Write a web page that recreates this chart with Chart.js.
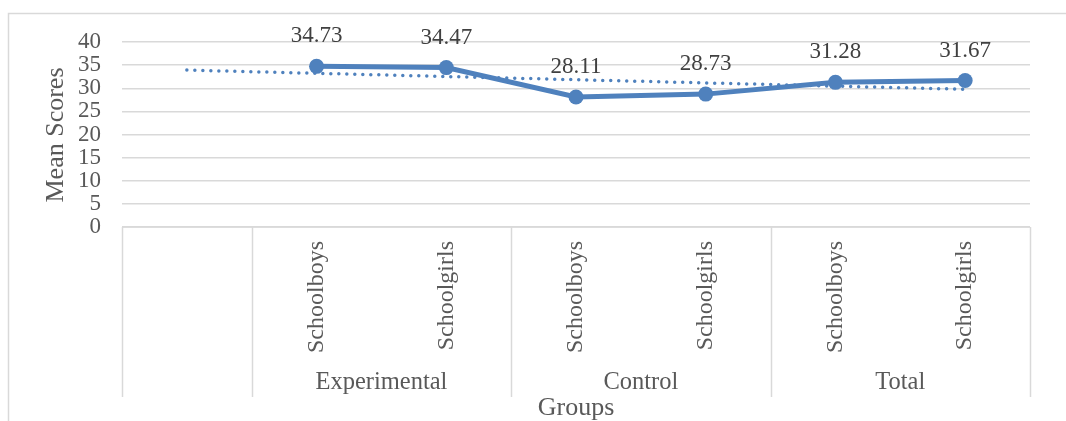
<!DOCTYPE html>
<html>
<head>
<meta charset="utf-8">
<script src="https://cdn.jsdelivr.net/npm/chart.js@4/dist/chart.umd.min.js"></script>
<style>
  html, body { margin: 0; padding: 0; background: #ffffff; }
  canvas { display: block; }
</style>
</head>
<body>
<canvas id="chart" width="1066" height="421"></canvas>
<script>
// Category slots: the first slot is an empty lead-in, then two per group
const categories = ['', 'Schoolboys', 'Schoolgirls', 'Schoolboys', 'Schoolgirls', 'Schoolboys', 'Schoolgirls'];
const categoryGroups = ['', 'Experimental', 'Experimental', 'Control', 'Control', 'Total', 'Total'];
const meanScores = [null, 34.73, 34.47, 28.11, 28.73, 31.28, 31.67];
// Linear trend line: value at the first and the last slot
const trendLine = [33.92, null, null, null, null, null, 29.77];
const yTicks = [0, 5, 10, 15, 20, 25, 30, 35, 40];

const SERIF = '"Liberation Serif", "Times New Roman", serif';
const BLUE = '#4f81bd';
const GRID = '#d9d9d9';
const TEXT = '#595959';

const tablePlugin = {
  id: 'groupedAxis',
  afterDraw(chart) {
    const ctx = chart.ctx;
    const area = chart.chartArea;
    const x = chart.scales.x;
    const step = x.getPixelForValue(1) - x.getPixelForValue(0);
    const tableBottom = 397;

    ctx.save();
    // outer frame (top and left edges)
    ctx.strokeStyle = GRID;
    ctx.lineWidth = 1.5;
    ctx.beginPath();
    ctx.moveTo(8.5, 421);
    ctx.lineTo(8.5, 13.5);
    ctx.lineTo(1066, 13.5);
    ctx.stroke();

    // category table: baseline and group separators
    ctx.beginPath();
    ctx.moveTo(area.left, area.bottom);
    ctx.lineTo(area.right, area.bottom);
    const edges = [];
    for (let i = 0; i <= categories.length; i++) {
      const prev = i > 0 ? categoryGroups[i - 1] : null;
      const next = i < categories.length ? categoryGroups[i] : null;
      if (prev !== next) edges.push(i);
    }
    edges.forEach(i => {
      const px = Math.round(x.getPixelForValue(i) - step / 2) + 0.5;
      ctx.moveTo(px, area.bottom);
      ctx.lineTo(px, tableBottom);
    });
    ctx.stroke();

    // rotated sub-category labels
    ctx.fillStyle = TEXT;
    ctx.font = '24px ' + SERIF;
    categories.forEach((label, i) => {
      if (!label) return;
      const cx = x.getPixelForValue(i);
      ctx.save();
      ctx.translate(cx, 241);
      ctx.rotate(-Math.PI / 2);
      ctx.textAlign = 'right';
      ctx.textBaseline = 'middle';
      ctx.fillText(label, 0, 0);
      ctx.restore();
    });

    // group labels centred under each group
    ctx.textAlign = 'center';
    ctx.textBaseline = 'middle';
    ctx.font = '24.5px ' + SERIF;
    for (let k = 0; k < edges.length - 1; k++) {
      const name = categoryGroups[edges[k]];
      if (!name) continue;
      const a = x.getPixelForValue(edges[k]) - step / 2;
      const b = x.getPixelForValue(edges[k + 1]) - step / 2;
      ctx.fillText(name, (a + b) / 2, 383);
    }

    // axis titles
    ctx.font = '26px ' + SERIF;
    ctx.fillText('Groups', (area.left + area.right) / 2, 408);
    ctx.save();
    ctx.translate(56, 135);
    ctx.rotate(-Math.PI / 2);
    ctx.fillText('Mean Scores', 0, 0);
    ctx.restore();

    // value labels above the markers
    ctx.fillStyle = '#404040';
    ctx.font = '23px ' + SERIF;
    const meta = chart.getDatasetMeta(0);
    meta.data.forEach((pt, i) => {
      const v = meanScores[i];
      if (v === null) return;
      ctx.fillText(v.toFixed(2), pt.x, pt.y - 30);
    });
    ctx.restore();
  }
};

new Chart(document.getElementById('chart'), {
  type: 'line',
  data: {
    labels: categories,
    datasets: [
      {
        label: 'Mean Scores',
        data: meanScores,
        borderColor: BLUE,
        backgroundColor: BLUE,
        borderWidth: 5,
        pointRadius: 7.5,
        pointBackgroundColor: BLUE,
        pointBorderWidth: 0,
        tension: 0
      },
      {
        label: 'Linear trend',
        data: trendLine,
        spanGaps: true,
        borderColor: BLUE,
        borderWidth: 3.5,
        borderDash: [0, 8],
        borderCapStyle: 'round',
        pointRadius: 0,
        tension: 0
      }
    ]
  },
  options: {
    responsive: false,
    animation: false,
    devicePixelRatio: 1,
    layout: { padding: { top: 42, right: 36, left: 0, bottom: 0 } },
    plugins: {
      legend: { display: false },
      tooltip: { enabled: false }
    },
    scales: {
      x: {
        type: 'category',
        offset: true,
        grid: { display: false },
        border: { display: false },
        ticks: { display: false },
        afterFit(scale) { scale.height = 421 - 227; }
      },
      y: {
        min: 0,
        max: 40,
        afterBuildTicks(scale) { scale.ticks = yTicks.map(v => ({ value: v })); },
        grid: { color: GRID, lineWidth: 1.5, drawTicks: false },
        border: { display: false },
        ticks: {
          color: TEXT,
          padding: 21,
          autoSkip: false,
          font: { family: SERIF, size: 23 }
        },
        afterFit(scale) { scale.width = 122; }
      }
    }
  },
  plugins: [tablePlugin]
});
</script>
</body>
</html>
